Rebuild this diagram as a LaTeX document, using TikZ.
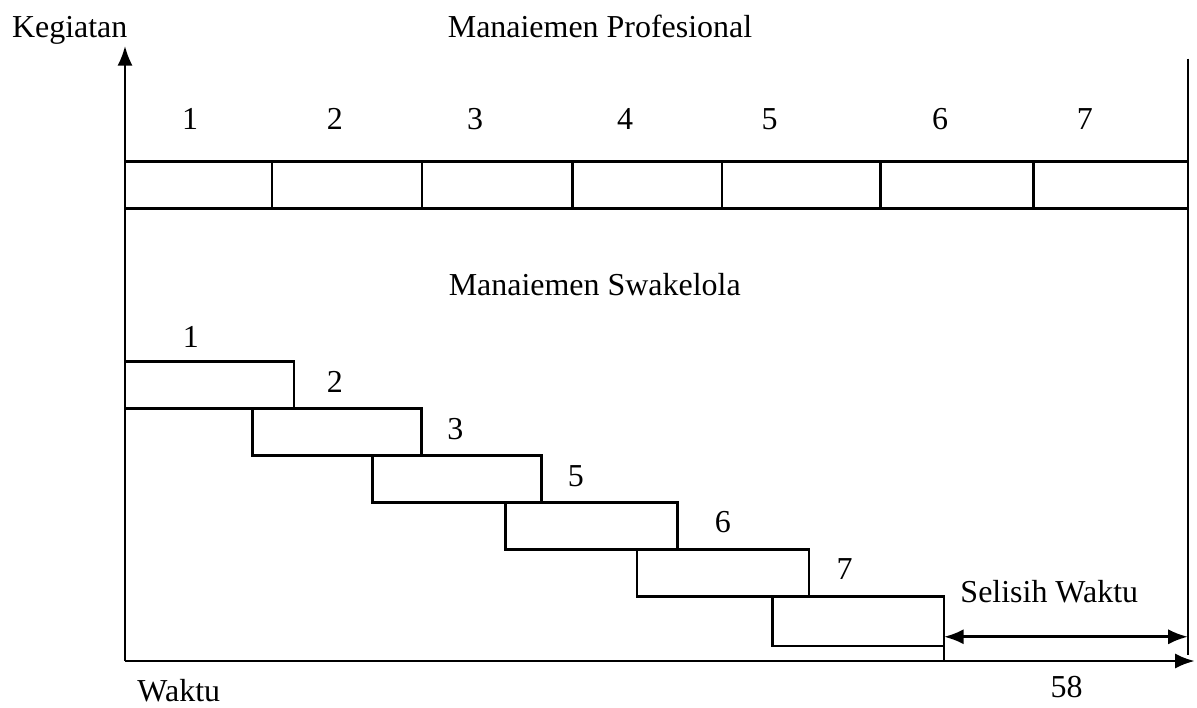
\documentclass[tikz,border=0pt]{standalone}
\usepackage{fontspec}
\setmainfont{Liberation Serif}
\usetikzlibrary{arrows.meta, positioning}

\begin{document}
\begin{tikzpicture}[>={Latex[length=2.6mm, width=2.0mm]}, line width=1pt,
  every node/.style={font=\fontsize{12pt}{14pt}\selectfont},
  bar/.style={draw, rectangle, inner sep=0pt, outer sep=0pt, minimum height=0.62cm, anchor=south west},
  num/.style={anchor=base, inner sep=0pt}]

  \useasboundingbox (-1.65,-0.62) rectangle (14.15,8.725);

  % Sumbu
  \coordinate (O) at (0,0);
  \coordinate (ytop) at (0,8.12);
  \coordinate (xend) at (14.12,0);
  \draw[->] (O) -- (ytop);
  \draw[->] (O) -- (xend);
  \node[num] (kegiatan) at (-0.73,8.23) {Kegiatan};
  \node[num] (waktu) at (0.71,-0.54) {Waktu};

  % Manajemen profesional
  \pgfmathsetmacro{\yP}{5.97}
  \pgfmathsetmacro{\yN}{7.02}
  \node[num] (tprof) at (6.27,8.23) {Manaiemen Profesional};
  \node[bar, minimum width=1.94cm] (p1) at (0,\yP) {};
  \node[bar, minimum width=1.98cm] (p2) at (1.94,\yP) {};
  \node[bar, minimum width=1.99cm] (p3) at (3.92,\yP) {};
  \node[bar, minimum width=1.97cm] (p4) at (5.91,\yP) {};
  \node[bar, minimum width=2.09cm] (p5) at (7.88,\yP) {};
  \node[bar, minimum width=2.02cm] (p6) at (9.97,\yP) {};
  \node[bar, minimum width=2.04cm] (p7) at (11.99,\yP) {};
  \node[num] (np1) at (0.86,\yN) {1};
  \node[num] (np2) at (2.77,\yN) {2};
  \node[num] (np3) at (4.62,\yN) {3};
  \node[num] (np4) at (6.60,\yN) {4};
  \node[num] (np5) at (8.51,\yN) {5};
  \node[num] (np6) at (10.76,\yN) {6};
  \node[num] (np7) at (12.67,\yN) {7};

  % Garis batas kanan
  \coordinate (rtop) at (14.03,7.95);
  \coordinate (rbot) at (14.03,0.08);
  \draw (rtop) -- (rbot);

  % Manajemen swakelola
  \node[num] (tswa) at (6.20,4.82) {Manaiemen Swakelola};
  \node[bar, minimum width=2.23cm] (s1) at (0,3.33) {};
  \node[bar, minimum width=2.23cm] (s2) at (1.68,2.71) {};
  \node[bar, minimum width=2.23cm] (s3) at (3.27,2.09) {};
  \node[bar, minimum width=2.27cm] (s5) at (5.02,1.47) {};
  \node[bar, minimum width=2.27cm] (s6) at (6.76,0.85) {};
  \node[bar, minimum width=2.26cm, minimum height=0.65cm] (s7) at (8.55,0.20) {};
  \node[num] (ns1) at (0.87,4.14) {1};
  \node[num] (ns2) at (2.77,3.54) {2};
  \node[num] (ns3) at (4.36,2.92) {3};
  \node[num] (ns5) at (5.95,2.30) {5};
  \node[num] (ns6) at (7.89,1.69) {6};
  \node[num] (ns7) at (9.50,1.08) {7};

  % Selisih waktu
  \draw (s7.north east) -- (s7.north east |- O);
  \coordinate (dl) at (s7.east |- 0,0.32);
  \coordinate (dr) at (rbot |- 0,0.32);
  \draw[<->] (dl) -- (dr);
  \node[num] (selisih) at (12.20,0.77) {Selisih Waktu};
  \node[num] (hal) at (12.43,-0.48) {58};

\end{tikzpicture}
\end{document}
